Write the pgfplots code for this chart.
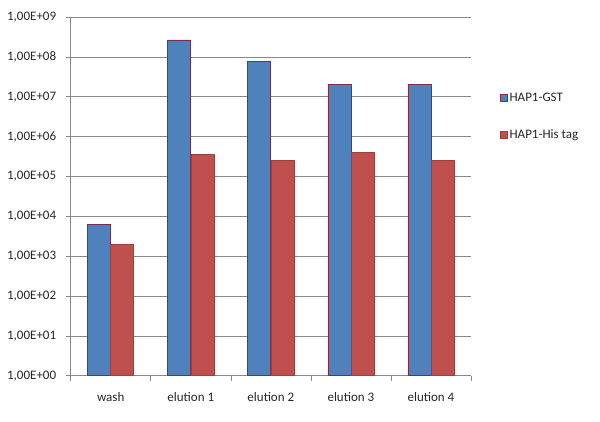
\documentclass[border=0pt]{standalone}
\usepackage{pgfplots}
\pgfplotsset{compat=1.18}
\usepackage{fontspec}
\setmainfont{Carlito}

\definecolor{gstblue}{HTML}{4F81BD}
\definecolor{hisred}{HTML}{C0504D}
\definecolor{barline}{HTML}{7A2E4C}
\definecolor{gridgray}{HTML}{878787}

\begin{document}
\begin{tikzpicture}[x=1pt,y=1pt]
  \path[use as bounding box] (-70.7,-46.3) rectangle (529.3,375.7);
  \begin{axis}[
    at={(0,0)}, anchor=south west,
    scale only axis, width=400.3pt, height=358.7pt,
    ymode=log, log basis y=10, log origin=0,
    ymin=1, ymax=1e9,
    xmin=-0.5, xmax=4.5,
    ybar=0pt, bar width=23pt,
    axis x line*=bottom, axis y line*=left,
    axis line style={gridgray, line width=0.6pt},
    ytick={1,1e1,1e2,1e3,1e4,1e5,1e6,1e7,1e8,1e9},
    yticklabels={{1,00E+00},{1,00E+01},{1,00E+02},{1,00E+03},{1,00E+04},{1,00E+05},{1,00E+06},{1,00E+07},{1,00E+08},{1,00E+09}},
    yminorticks=false,
    ymajorgrids, grid style={gridgray, line width=0.6pt},
    major tick length=5pt, tick align=outside,
    tick style={gridgray, line width=0.6pt},
    xtick={0,1,2,3,4},
    xticklabels={wash, elution 1, elution 2, elution 3, elution 4},
    minor xtick={-0.5,0.5,1.5,2.5,3.5,4.5},
    xtick style={draw=none},
    minor x tick style={draw=gridgray, line width=0.6pt},
    minor tick length=5pt,
    ticklabel style={font=\fontsize{13}{15}\selectfont, text=black!85},
    yticklabel style={xshift=-6pt},
    xticklabel style={yshift=-8pt},
    legend style={at={(1.072,0.795)}, anchor=north west, draw=none, fill=none,
      font=\fontsize{13}{15}\selectfont, text=black!85,
      row sep=23pt, inner sep=0pt},
    legend cell align=left,
    legend image code/.code={\draw[#1, line width=0.6pt] (0pt,-3.5pt) rectangle (7pt,3.5pt);},
  ]
    \addplot[fill=gstblue, draw=barline, line width=0.8pt] coordinates {
      (0,6.4e3) (1,2.65e8) (2,7.6e7) (3,2.05e7) (4,2.05e7)};
    \addlegendentry{HAP1-GST}
    \addplot[fill=hisred, draw=hisred!80!black, line width=0.5pt] coordinates {
      (0,2.0e3) (1,3.6e5) (2,2.54e5) (3,4.0e5) (4,2.54e5)};
    \addlegendentry{HAP1-His tag}
  \end{axis}
\end{tikzpicture}
\end{document}
